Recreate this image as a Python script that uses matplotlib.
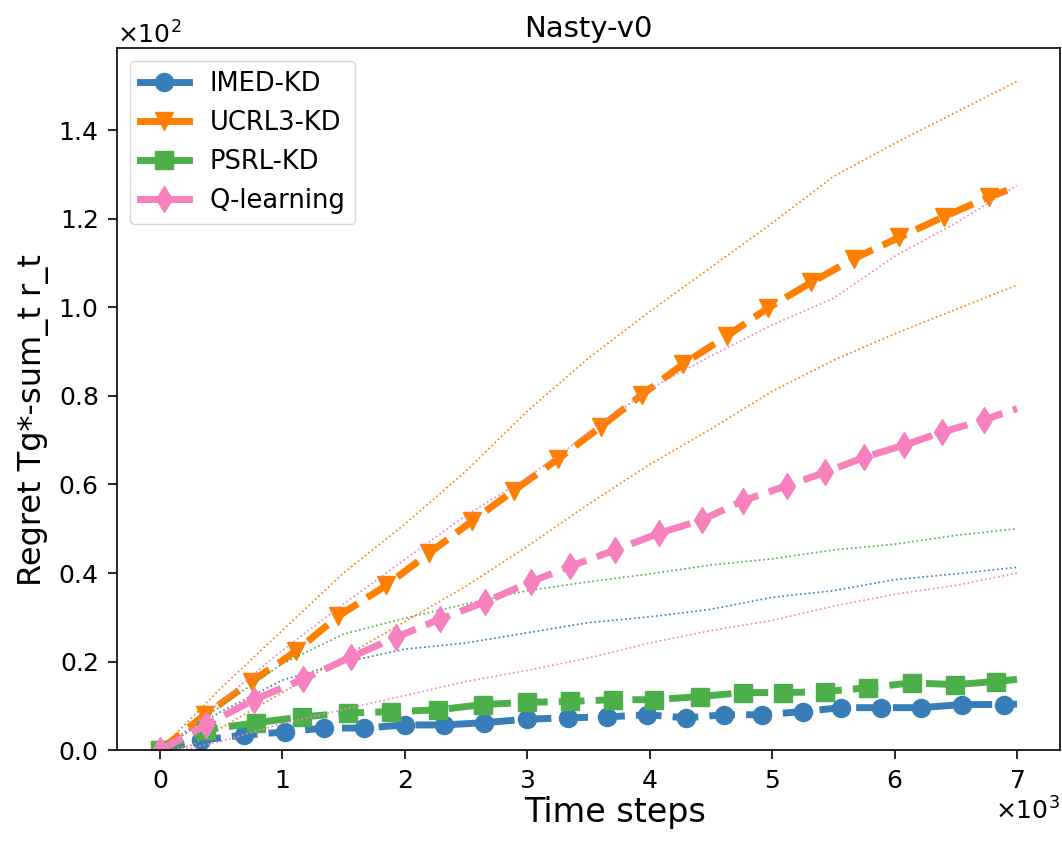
import numpy as np
import matplotlib
matplotlib.use("Agg")
import matplotlib.pyplot as plt

# mean curves (x in time steps, regret values); markers sit on every listed point
imed_x = [0, 340, 690, 1020, 1340, 1670, 2000, 2320, 2650, 3000, 3330, 3650, 3980, 4300,
          4610, 4920, 5250, 5560, 5890, 6220, 6550, 6890, 7000]
imed_mean = [0, 2.3, 3.4, 4.1, 5.0, 5.0, 5.7, 5.7, 6.2, 7.0, 7.3, 7.5, 8.0, 7.3,
             8.0, 8.0, 8.7, 9.6, 9.6, 9.6, 10.3, 10.3, 10.4]

ucrl_x = [0, 370, 750, 1110, 1460, 1850, 2200, 2550, 2890, 3250, 3600, 3940, 4270, 4630,
          4970, 5320, 5670, 6040, 6400, 6770, 7000]
ucrl_mean = [0, 8.0, 15.5, 22.3, 30.3, 37.2, 44.5, 51.7, 58.6, 65.7, 73.0, 80.3, 87.1, 93.5,
             99.9, 105.6, 111.0, 115.8, 120.4, 124.9, 127.2]

psrl_x = [0, 380, 790, 1160, 1540, 1890, 2270, 2640, 3000, 3350, 3700, 4040, 4410, 4760,
          5090, 5430, 5780, 6140, 6490, 6830, 7000]
psrl_mean = [0, 4.6, 6.2, 7.5, 8.4, 8.7, 9.1, 10.3, 10.8, 11.0, 11.4, 11.4, 12.1, 13.0,
             13.0, 13.2, 14.1, 15.2, 14.8, 15.5, 16.0]

qlearn_x = [0, 380, 770, 1170, 1560, 1930, 2290, 2660, 3030, 3350, 3720, 4080, 4430, 4760,
            5120, 5430, 5750, 6080, 6390, 6730, 7000]
qlearn_mean = [0, 5.7, 11.4, 16.0, 21.0, 25.5, 29.6, 33.5, 38.0, 41.5, 45.2, 49.0, 52.0, 56.3,
               59.7, 62.7, 66.1, 68.9, 71.8, 74.6, 77.1]

# dotted bounds
bound_x = [0, 250, 500, 1000, 1500, 2000, 2500, 3000, 3500, 4000, 4500, 5000, 5500, 6000, 6500, 7000]
imed_upper = [0, 4.5, 8.7, 15.8, 19.8, 22.8, 24.2, 26.5, 28.8, 30.1, 31.8, 34.5, 36.0, 38.5, 39.8, 41.3]
ucrl_upper = [0, 7.0, 14.0, 27.0, 40.0, 51.0, 63.0, 76.5, 88.5, 99.0, 109.0, 119.0, 129.5, 137.0, 144.0, 151.0]
ucrl_lower = [0, 1.0, 5.0, 13.0, 21.0, 29.0, 37.0, 46.0, 55.5, 64.5, 72.5, 81.0, 88.0, 94.0, 99.5, 105.0]
psrl_upper = [0, 5.0, 10.0, 19.5, 26.2, 29.8, 33.0, 36.0, 38.0, 39.8, 41.8, 43.2, 45.2, 46.5, 48.5, 50.0]
qlearn_upper = [0, 5.0, 11.0, 22.5, 33.0, 43.0, 53.0, 61.5, 71.5, 81.5, 89.0, 96.0, 102.0, 111.5, 119.0, 127.5]
qlearn_lower = [0, 0.4, 2.0, 6.0, 9.2, 12.3, 15.5, 18.0, 20.8, 24.2, 27.0, 29.3, 32.5, 35.2, 37.2, 40.0]

labels = ["IMED-KD", "UCRL3-KD", "PSRL-KD", "Q-learning"]
colors = ["#377eb8", "#ff7f00", "#4daf4a", "#f781bf"]
markers = ["o", "v", "s", "d"]

series = [
    (imed_x, imed_mean, [imed_upper]),
    (ucrl_x, ucrl_mean, [ucrl_upper, ucrl_lower]),
    (psrl_x, psrl_mean, [psrl_upper]),
    (qlearn_x, qlearn_mean, [qlearn_upper, qlearn_lower]),
]

fig = plt.figure(figsize=(10.62, 8.41), dpi=100)
ax = fig.add_axes([0.110, 0.108, 0.888, 0.835])

for (xs, ys, bounds), lab, col, mk in zip(series, labels, colors, markers):
    ax.plot(xs, ys, linestyle="--", linewidth=5, color=col, marker=mk, markersize=13,
            markevery=slice(0, len(xs) - 1), label=lab)
    for b in bounds:
        ax.plot(bound_x, b, linestyle=":", linewidth=1.2, color=col)

ax.set_ylim(bottom=0)
ax.ticklabel_format(style="sci", axis="both", scilimits=(0, 0), useMathText=True)
ax.tick_params(labelsize=18, length=6.5, width=1.2, pad=7)
ax.xaxis.get_offset_text().set_fontsize(18)
ax.yaxis.get_offset_text().set_fontsize(18)
for s in ax.spines.values():
    s.set_linewidth(1.2)

ax.set_title("Nasty-v0", fontsize=21, pad=8)
ax.set_xlabel("Time steps", fontsize=24, x=0.528, labelpad=2)
ax.set_ylabel("Regret Tg*-sum_t r_t", fontsize=23, y=0.47, labelpad=6)
leg = ax.legend(loc="upper left", fontsize=18.5, handlelength=1.9)
for line in leg.get_lines():
    line.set_linestyle("-")

fig.savefig("out.png", dpi=100)
